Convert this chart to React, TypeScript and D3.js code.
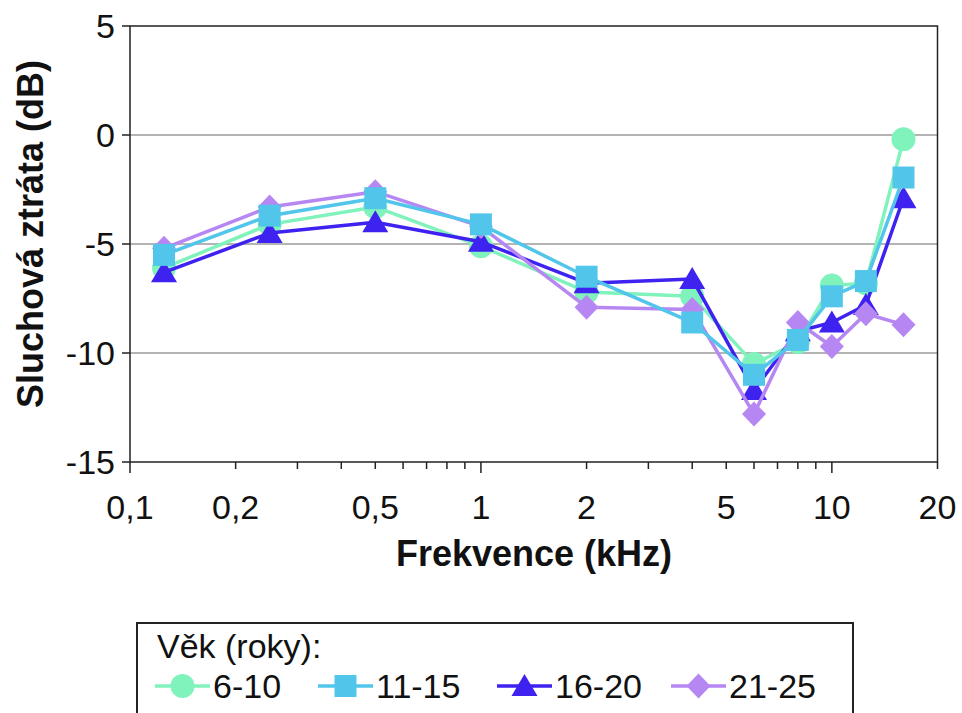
import * as d3 from "d3";

// frequencies (kHz) and hearing loss per age group (dB)
const freqs = [0.125, 0.25, 0.5, 1, 2, 4, 6, 8, 10, 12.5, 16];
const age6_10 = [-6.1, -4.1, -3.3, -5.1, -7.2, -7.4, -10.5, -9.5, -6.9, -6.8, -0.2];
const age11_15 = [-5.5, -3.7, -2.9, -4.1, -6.5, -8.6, -11.0, -9.4, -7.4, -6.7, -1.95];
const age16_20 = [-6.3, -4.5, -4.0, -4.9, -6.8, -6.6, -11.7, -9.0, -8.6, -7.8, -2.9];
const age21_25 = [-5.2, -3.3, -2.6, -4.2, -7.9, -8.0, -12.8, -8.6, -9.7, -8.2, -8.7];

const yTicks = [5, 0, -5, -10, -15];
const yGrid = [0, -5, -10];
const xLabelTicks = [0.1, 0.2, 0.5, 1, 2, 5, 10, 20];
const xMinorTicks = [0.2, 0.3, 0.4, 0.5, 0.6, 0.7, 0.8, 0.9, 2, 3, 4, 5, 6, 7, 8, 9, 20];
const xMajorTicks = [0.1, 1, 10];

const series = [
  { name: "6-10", values: age6_10, color: "#80F2BC", shape: "circle" },
  { name: "11-15", values: age11_15, color: "#52C6EA", shape: "square" },
  { name: "16-20", values: age16_20, color: "#3E22F0", shape: "triangle" },
  { name: "21-25", values: age21_25, color: "#B687F2", shape: "diamond" },
];
// draw order so overlaps look like the original
const drawOrder = [0, 2, 3, 1];

const W = 962;
const H = 713;
const FONT = "'Liberation Sans', Arial, sans-serif";

const x = d3.scaleLog().domain([0.1, 20]).range([130, 937.5]);
const y = d3.scaleLinear().domain([-15, 5]).range([462, 26]);

function marker(shape: string) {
  if (shape === "circle") return d3.symbol(d3.symbolCircle, Math.PI * 12 * 12)();
  if (shape === "square") return d3.symbol(d3.symbolSquare, 22 * 22)();
  if (shape === "triangle") {
    const p = d3.path();
    p.moveTo(0, -12);
    p.lineTo(13, 10);
    p.lineTo(-13, 10);
    p.closePath();
    return p.toString();
  }
  const p = d3.path();
  p.moveTo(0, -12.5);
  p.lineTo(12, 0);
  p.lineTo(0, 12.5);
  p.lineTo(-12, 0);
  p.closePath();
  return p.toString();
}

const fmt = (v: number) => String(v).replace(".", ",");

export default function App() {
  const line = d3
    .line<number>()
    .x((_, i) => x(freqs[i]))
    .y((d) => y(d));

  const legendX = [155, 318, 497, 671];

  return (
    <svg
      width={W}
      height={H}
      style={{ position: "absolute", left: 0, top: 0, background: "#fff" }}
      fontFamily={FONT}
    >
      <rect x={0} y={0} width={W} height={H} fill="#fff" />
      {/* grid */}
      {yGrid.map((v) => (
        <line key={v} x1={x(0.1)} x2={x(20)} y1={y(v)} y2={y(v)} stroke="#b4b4b4" strokeWidth={2} />
      ))}
      {/* plot border */}
      <rect
        x={x(0.1)}
        y={y(5)}
        width={x(20) - x(0.1)}
        height={y(-15) - y(5)}
        fill="none"
        stroke="#222"
        strokeWidth={1.5}
      />
      {/* y ticks */}
      {yTicks.map((v) => (
        <g key={v}>
          <line x1={x(0.1) - 8} x2={x(0.1)} y1={y(v)} y2={y(v)} stroke="#222" strokeWidth={1.5} />
          <text x={115} y={y(v)} dy="0.36em" textAnchor="end" fontSize={34} fill="#111">
            {v < 0 ? "-" + Math.abs(v) : v}
          </text>
        </g>
      ))}
      {/* x ticks */}
      {xMinorTicks.map((v) => (
        <line key={"m" + v} x1={x(v)} x2={x(v)} y1={y(-15)} y2={y(-15) + 7} stroke="#222" strokeWidth={1.5} />
      ))}
      {xMajorTicks.map((v) => (
        <line key={"M" + v} x1={x(v)} x2={x(v)} y1={y(-15)} y2={y(-15) + 11} stroke="#222" strokeWidth={1.5} />
      ))}
      {xLabelTicks.map((v) => (
        <text key={"l" + v} x={x(v)} y={519} textAnchor="middle" fontSize={34} fill="#111">
          {fmt(v)}
        </text>
      ))}
      {/* axis titles */}
      <text x={534} y={566} textAnchor="middle" fontSize={36} fontWeight="bold" fill="#111">
        Frekvence (kHz)
      </text>
      <text
        transform={`translate(43,${y(-5) - 10}) rotate(-90)`}
        textAnchor="middle"
        fontSize={36}
        fontWeight="bold"
        fill="#111"
      >
        Sluchová ztráta (dB)
      </text>
      {/* series */}
      {drawOrder.map((si) => {
        const s = series[si];
        return (
          <g key={s.name}>
            <path d={line(s.values) ?? ""} fill="none" stroke={s.color} strokeWidth={3.5} strokeLinejoin="round" />
            {s.values.map((v, i) => (
              <path key={i} d={marker(s.shape) ?? ""} transform={`translate(${x(freqs[i])},${y(v)})`} fill={s.color} />
            ))}
          </g>
        );
      })}
      {/* legend */}
      <rect x={137} y={623} width={716} height={110} fill="#fff" stroke="#222" strokeWidth={2} />
      <text x={157} y={658} fontSize={34} fill="#111">
        Věk (roky):
      </text>
      {series.map((s, i) => (
        <g key={s.name} transform={`translate(${legendX[i]},686)`}>
          <line x1={0} x2={55} y1={0} y2={0} stroke={s.color} strokeWidth={3.5} />
          <path d={marker(s.shape) ?? ""} transform="translate(27.5,0)" fill={s.color} />
          <text x={58} y={0} dy="0.36em" fontSize={34} fill="#111">
            {s.name}
          </text>
        </g>
      ))}
    </svg>
  );
}
